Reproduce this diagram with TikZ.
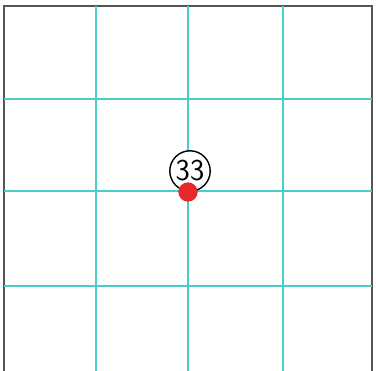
\documentclass[tikz,border=0pt]{standalone}
\usepackage{xcolor}
\usepackage{tikz}
\usetikzlibrary{positioning}
\definecolor{gridcyan}{HTML}{4CCBCB}
\definecolor{pointred}{HTML}{E8282B}
\definecolor{framegray}{HTML}{555555}

\begin{document}
\begin{tikzpicture}[x=0.2mm, y=-0.2mm, font=\sffamily\LARGE]
  \useasboundingbox (0,0) rectangle (376,370);
  % frame
  \draw[framegray, line width=1pt] (4,375) -- (4,6) -- (372,6) -- (372,375);
  % grid
  \foreach \p in {96, 188, 283} {
    \draw[gridcyan, line width=1pt] (\p,6) -- (\p,375);
    \draw[gridcyan, line width=1pt] (4,\p+3) -- (372,\p+3);
  }
  % point with label
  \node[circle, draw, thick, fill=white, inner sep=0pt, minimum size=23pt] (lbl) at (190,171) {33};
  \node[circle, fill=pointred, inner sep=0pt, minimum size=11pt] (pt) at (188,192) {};
\end{tikzpicture}
\end{document}
